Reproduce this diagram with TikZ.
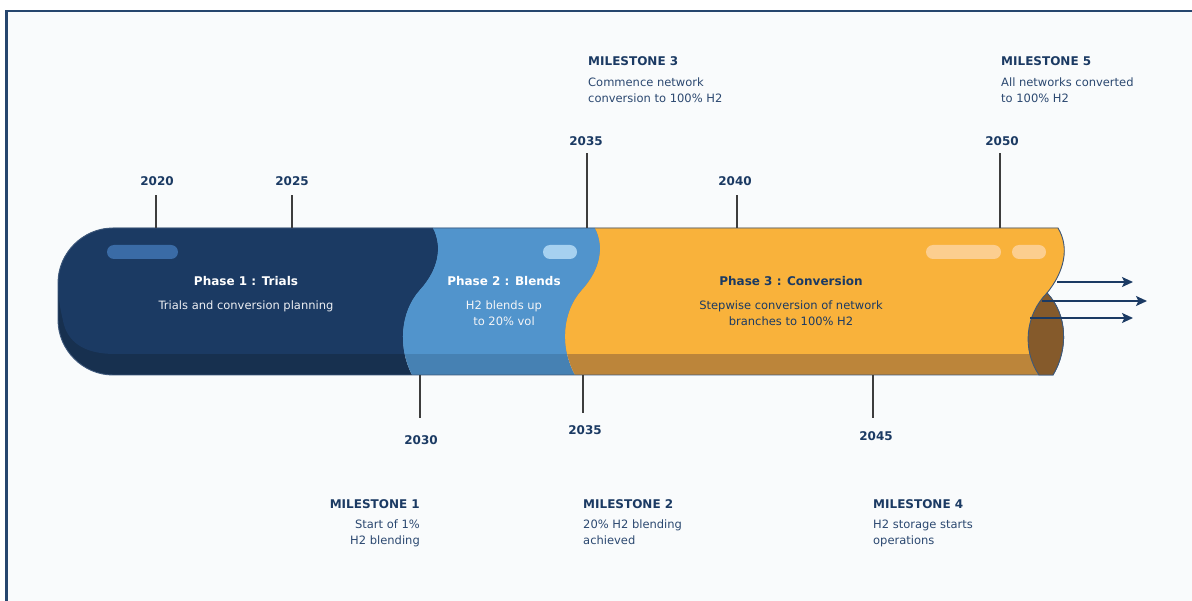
\documentclass[tikz,border=0pt]{standalone}
\usepackage{fontspec}
\setmainfont{DejaVu Sans}
\usetikzlibrary{arrows.meta}

\definecolor{navy}{HTML}{1B3A63}
\definecolor{navyshade}{HTML}{17304F}
\definecolor{blend}{HTML}{5194CC}
\definecolor{blendshade}{HTML}{4681B3}
\definecolor{conv}{HTML}{F9B23B}
\definecolor{convshade}{HTML}{BC853A}
\definecolor{capbrown}{HTML}{855A2B}
\definecolor{pillA}{HTML}{3A6BA6}
\definecolor{pillB}{HTML}{A6D1F0}
\definecolor{pillC}{HTML}{FCCE8F}
\definecolor{bodytext}{HTML}{2B4870}
\definecolor{tickgray}{HTML}{3D3D3D}
\definecolor{panel}{HTML}{F9FBFC}
\definecolor{frame}{HTML}{26466E}

\begin{document}
\begin{tikzpicture}[
    x=1pt, y=-1pt,   % pixel grid, y runs downwards
    year/.style={font=\fontsize{12}{14}\selectfont\bfseries, text=navy, inner sep=0pt, anchor=base},
    mshead/.style={font=\fontsize{12}{14}\selectfont\bfseries, text=navy, inner sep=0pt},
    mstext/.style={font=\fontsize{11.5}{16.3}\selectfont, text=bodytext, inner sep=0pt},
    phasehead/.style={font=\fontsize{12}{14}\selectfont\bfseries, inner sep=0pt, anchor=base},
    phasetext/.style={font=\fontsize{11.5}{16.3}\selectfont, inner sep=0pt, anchor=north, align=center},
    tick/.style={draw=tickgray, line width=1.2pt},
    flow/.style={draw=navy, line width=1.6pt, -{Stealth[length=11pt,width=10pt,inset=2.5pt]}},
    pill/.style={rounded corners=7pt}
  ]
  \useasboundingbox (0,0) rectangle (1192,601);
  \clip (0,0) rectangle (1192,601);

  % panel
  \fill[white] (0,0) rectangle (1192,601);
  \filldraw[fill=panel, draw=frame, line width=2.8pt] (6.5,11) rectangle (1240,650);

  % pipe outline, lit top part and the two wavy seams
  \def\pipebody{(113,228) -- (1058,228)
    .. controls (1070,248) and (1064,272) .. (1047,293)
    .. controls (1068,315) and (1068,350) .. (1053,375)
    -- (113,375) .. controls (83,375) and (58,350) .. (58,320)
    -- (58,283) .. controls (58,253) and (83,228) .. (113,228) -- cycle}
  \def\litpart{(113,228) -- (1100,228) -- (1100,354) -- (115,354)
    .. controls (88,354) and (70,345) .. (64,325)
    .. controls (61,312) and (58,300) .. (58,283)
    .. controls (58,253) and (83,228) .. (113,228) -- cycle}
  \def\seamA{(433,228) .. controls (442,245) and (440,268) .. (420,290)
    .. controls (400,312) and (398,348) .. (412,375)}
  \def\seamB{(595,228) .. controls (604,245) and (602,268) .. (582,290)
    .. controls (562,312) and (560,348) .. (575,375)}

  \begin{scope}
    \clip \pipebody;
    % phase 1
    \begin{scope}
      \clip (40,220) -- \seamA -- (412,380) -- (40,380) -- cycle;
      \fill[navyshade] (40,220) rectangle (1100,380);
      \fill[navy] \litpart;
    \end{scope}
    % phase 2
    \begin{scope}
      \clip (433,220) -- \seamA -- (412,380) -- (575,380) -- (575,375)
        .. controls (560,348) and (562,312) .. (582,290)
        .. controls (602,268) and (604,245) .. (595,228) -- (595,220) -- cycle;
      \fill[blendshade] (40,220) rectangle (1100,380);
      \fill[blend] \litpart;
    \end{scope}
    % phase 3
    \begin{scope}
      \clip (595,220) -- \seamB -- (575,380) -- (1100,380) -- (1100,220) -- cycle;
      \fill[convshade] (40,220) rectangle (1100,380);
      \fill[conv] \litpart;
    \end{scope}
  \end{scope}
  \draw[navy!85, line width=0.9pt] \pipebody;

  % highlights
  \fill[pillA, pill] (107,245) rectangle (178,259);
  \fill[pillB, pill] (543,245) rectangle (577,259);
  \fill[pillC, pill] (926,245) rectangle (1001,259);
  \fill[pillC, pill] (1012,245) rectangle (1046,259);

  % open end of the pipe
  \filldraw[fill=capbrown, draw=navy!85, line width=0.9pt] (1047,293)
    .. controls (1025,315) and (1022,350) .. (1039,375) -- (1053,375)
    .. controls (1068,350) and (1068,315) .. (1047,293) -- cycle;

  % outflow
  \coordinate (outA) at (1057,282);
  \coordinate (outB) at (1042,301);
  \coordinate (outC) at (1030,318);
  \coordinate (endA) at (1133,282);
  \coordinate (endB) at (1147,301);
  \coordinate (endC) at (1133,318);
  \draw[flow] (outA) -- (endA);
  \draw[flow] (outB) -- (endB);
  \draw[flow] (outC) -- (endC);

  % phase labels
  \node[phasehead, text=white] (ph1) at (246,286) {Phase 1 : Trials};
  \node[phasetext, text=white!92!navy] (ph1txt) at (246,300.3) {Trials and conversion planning};
  \node[phasehead, text=white] (ph2) at (504,286) {Phase 2 : Blends};
  \node[phasetext, text=white!95!navy] (ph2txt) at (504,300.3) {H2 blends up\\to 20\% vol};
  \node[phasehead, text=navy] (ph3) at (791,286) {Phase 3 : Conversion};
  \node[phasetext, text=navy] (ph3txt) at (791,300.3) {Stepwise conversion of network\\branches to 100\% H2};

  % years above the pipe
  \coordinate (t2020) at (156,228);
  \coordinate (t2025) at (292,228);
  \coordinate (t2035) at (587,228);
  \coordinate (t2040) at (737,228);
  \coordinate (t2050) at (1000,228);
  \node[year] (y2020) at (157,186) {2020};
  \node[year] (y2025) at (292,186) {2025};
  \node[year] (y2035) at (586,146) {2035};
  \node[year] (y2040) at (735,186) {2040};
  \node[year] (y2050) at (1002,146) {2050};
  \draw[tick, shorten >=9pt] (t2020) -- (t2020 |- y2020.south);
  \draw[tick, shorten >=9pt] (t2025) -- (t2025 |- y2025.south);
  \draw[tick, shorten >=7pt] (t2035) -- (t2035 |- y2035.south);
  \draw[tick, shorten >=9pt] (t2040) -- (t2040 |- y2040.south);
  \draw[tick, shorten >=7pt] (t2050) -- (t2050 |- y2050.south);

  % years below the pipe
  \coordinate (b2030) at (420,375);
  \coordinate (b2035) at (583,375);
  \coordinate (b2045) at (873,375);
  \node[year] (y2030) at (421,445) {2030};
  \node[year] (y2035b) at (585,435) {2035};
  \node[year] (y2045) at (876,441) {2045};
  \draw[tick, shorten >=18pt] (b2030) -- (b2030 |- y2030.north);
  \draw[tick, shorten >=13pt] (b2035) -- (b2035 |- y2035b.north);
  \draw[tick, shorten >=14pt] (b2045) -- (b2045 |- y2045.north);

  % milestones
  \node[mshead, anchor=base west] (ms3) at (588,66) {MILESTONE 3};
  \node[mstext, anchor=north west, align=left] (ms3txt) at (588,77.3) {Commence network\\conversion to 100\% H2};
  \node[mshead, anchor=base west] (ms5) at (1001,66) {MILESTONE 5};
  \node[mstext, anchor=north west, align=left] (ms5txt) at (1001,77.3) {All networks converted\\to 100\% H2};
  \node[mshead, anchor=base east] (ms1) at (420,508) {MILESTONE 1};
  \node[mstext, anchor=north east, align=right] (ms1txt) at (420,519.3) {Start of 1\%\\H2 blending};
  \node[mshead, anchor=base west] (ms2) at (583,508) {MILESTONE 2};
  \node[mstext, anchor=north west, align=left] (ms2txt) at (583,519.3) {20\% H2 blending\\achieved};
  \node[mshead, anchor=base west] (ms4) at (873,508) {MILESTONE 4};
  \node[mstext, anchor=north west, align=left] (ms4txt) at (873,519.3) {H2 storage starts\\operations};
\end{tikzpicture}
\end{document}
